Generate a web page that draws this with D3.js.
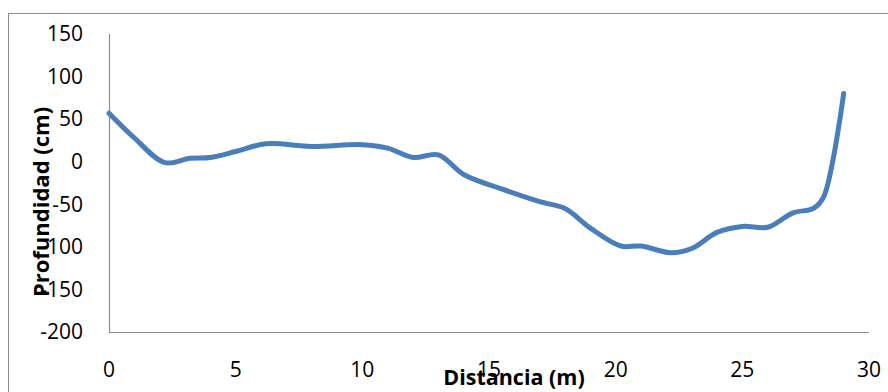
<!DOCTYPE html>
<html>
<head>
<meta charset="utf-8">
<script src="https://cdn.jsdelivr.net/npm/d3@7"></script>
<style>
  body { margin: 0; background: #fff; }
  svg { display: block; }
</style>
</head>
<body>
<script>
// distance along the section (m) and depth (cm)
const distancia = [0, 1, 2.2, 3.2, 4, 5, 6.2, 8, 10, 11, 12, 13, 14, 15.5, 17, 18, 19, 20.2, 21, 22.2, 23, 24, 25, 26, 27, 27.8, 28.2, 29];
const profundidad = [57, 28, -1, 4, 5, 12, 21, 18, 20, 16, 5, 8, -15, -32, -47, -55, -78, -99, -99, -107, -102, -83, -76, -77, -60, -55, -42, 80];
const xTicks = [0, 5, 10, 15, 20, 25, 30];
const yTicks = [150, 100, 50, 0, -50, -100, -150, -200];

const width = 888, height = 392;
const font = "'Open Sans', 'Liberation Sans', sans-serif";

var svg = d3.select("body").append("svg")
    .attr("width", width)
    .attr("height", height);

// outer chart border (runs off the picture on the right and bottom)
svg.append("rect")
    .attr("x", 8.5).attr("y", 13.5)
    .attr("width", 900).attr("height", 400)
    .attr("fill", "none")
    .attr("stroke", "#8c8c8c")
    .attr("stroke-width", 1);

let x = d3.scaleLinear().domain([0, 30]).range([109, 869]);
let y = d3.scaleLinear().domain([-200, 150]).range([332, 34]);

// axes as plain lines, no tick marks
svg.append("line")
    .attr("x1", x(0) + 0.5).attr("x2", x(0) + 0.5)
    .attr("y1", y(150)).attr("y2", y(-200))
    .attr("stroke", "#8c8c8c").attr("stroke-width", 1.2);
svg.append("line")
    .attr("x1", x(0)).attr("x2", x(30))
    .attr("y1", y(-200) + 0.5).attr("y2", y(-200) + 0.5)
    .attr("stroke", "#8c8c8c").attr("stroke-width", 1.2);

svg.selectAll(".ylab")
    .data(yTicks)
    .enter().append("text")
    .attr("x", 83)
    .attr("y", d => y(d))
    .attr("dy", "0.35em")
    .attr("text-anchor", "end")
    .attr("font-family", font)
    .attr("font-size", 21)
    .attr("fill", "#000")
    .text(d => d);

svg.selectAll(".xlab")
    .data(xTicks)
    .enter().append("text")
    .attr("x", d => x(d))
    .attr("y", 370)
    .attr("dy", "0.35em")
    .attr("text-anchor", "middle")
    .attr("font-family", font)
    .attr("font-size", 21)
    .attr("fill", "#000")
    .text(d => d);

// axis titles
svg.append("text")
    .attr("x", 514).attr("y", 385)
    .attr("text-anchor", "middle")
    .attr("font-family", font)
    .attr("font-weight", "bold")
    .attr("font-size", 21.5)
    .text("Distancia (m)");

svg.append("text")
    .attr("transform", "translate(49, 202) rotate(-90)")
    .attr("text-anchor", "middle")
    .attr("font-family", font)
    .attr("font-weight", "bold")
    .attr("font-size", 22)
    .text("Profundidad (cm)");

var line = d3.line()
    .x(d => x(d[0]))
    .y(d => y(d[1]))
    .curve(d3.curveCatmullRom.alpha(0.5));

svg.append("path")
    .datum(distancia.map((d, i) => [d, profundidad[i]]))
    .attr("d", line)
    .attr("fill", "none")
    .attr("stroke", "#4a7ebb")
    .attr("stroke-width", 5)
    .attr("stroke-linecap", "round")
    .attr("stroke-linejoin", "round");
</script>
</body>
</html>
